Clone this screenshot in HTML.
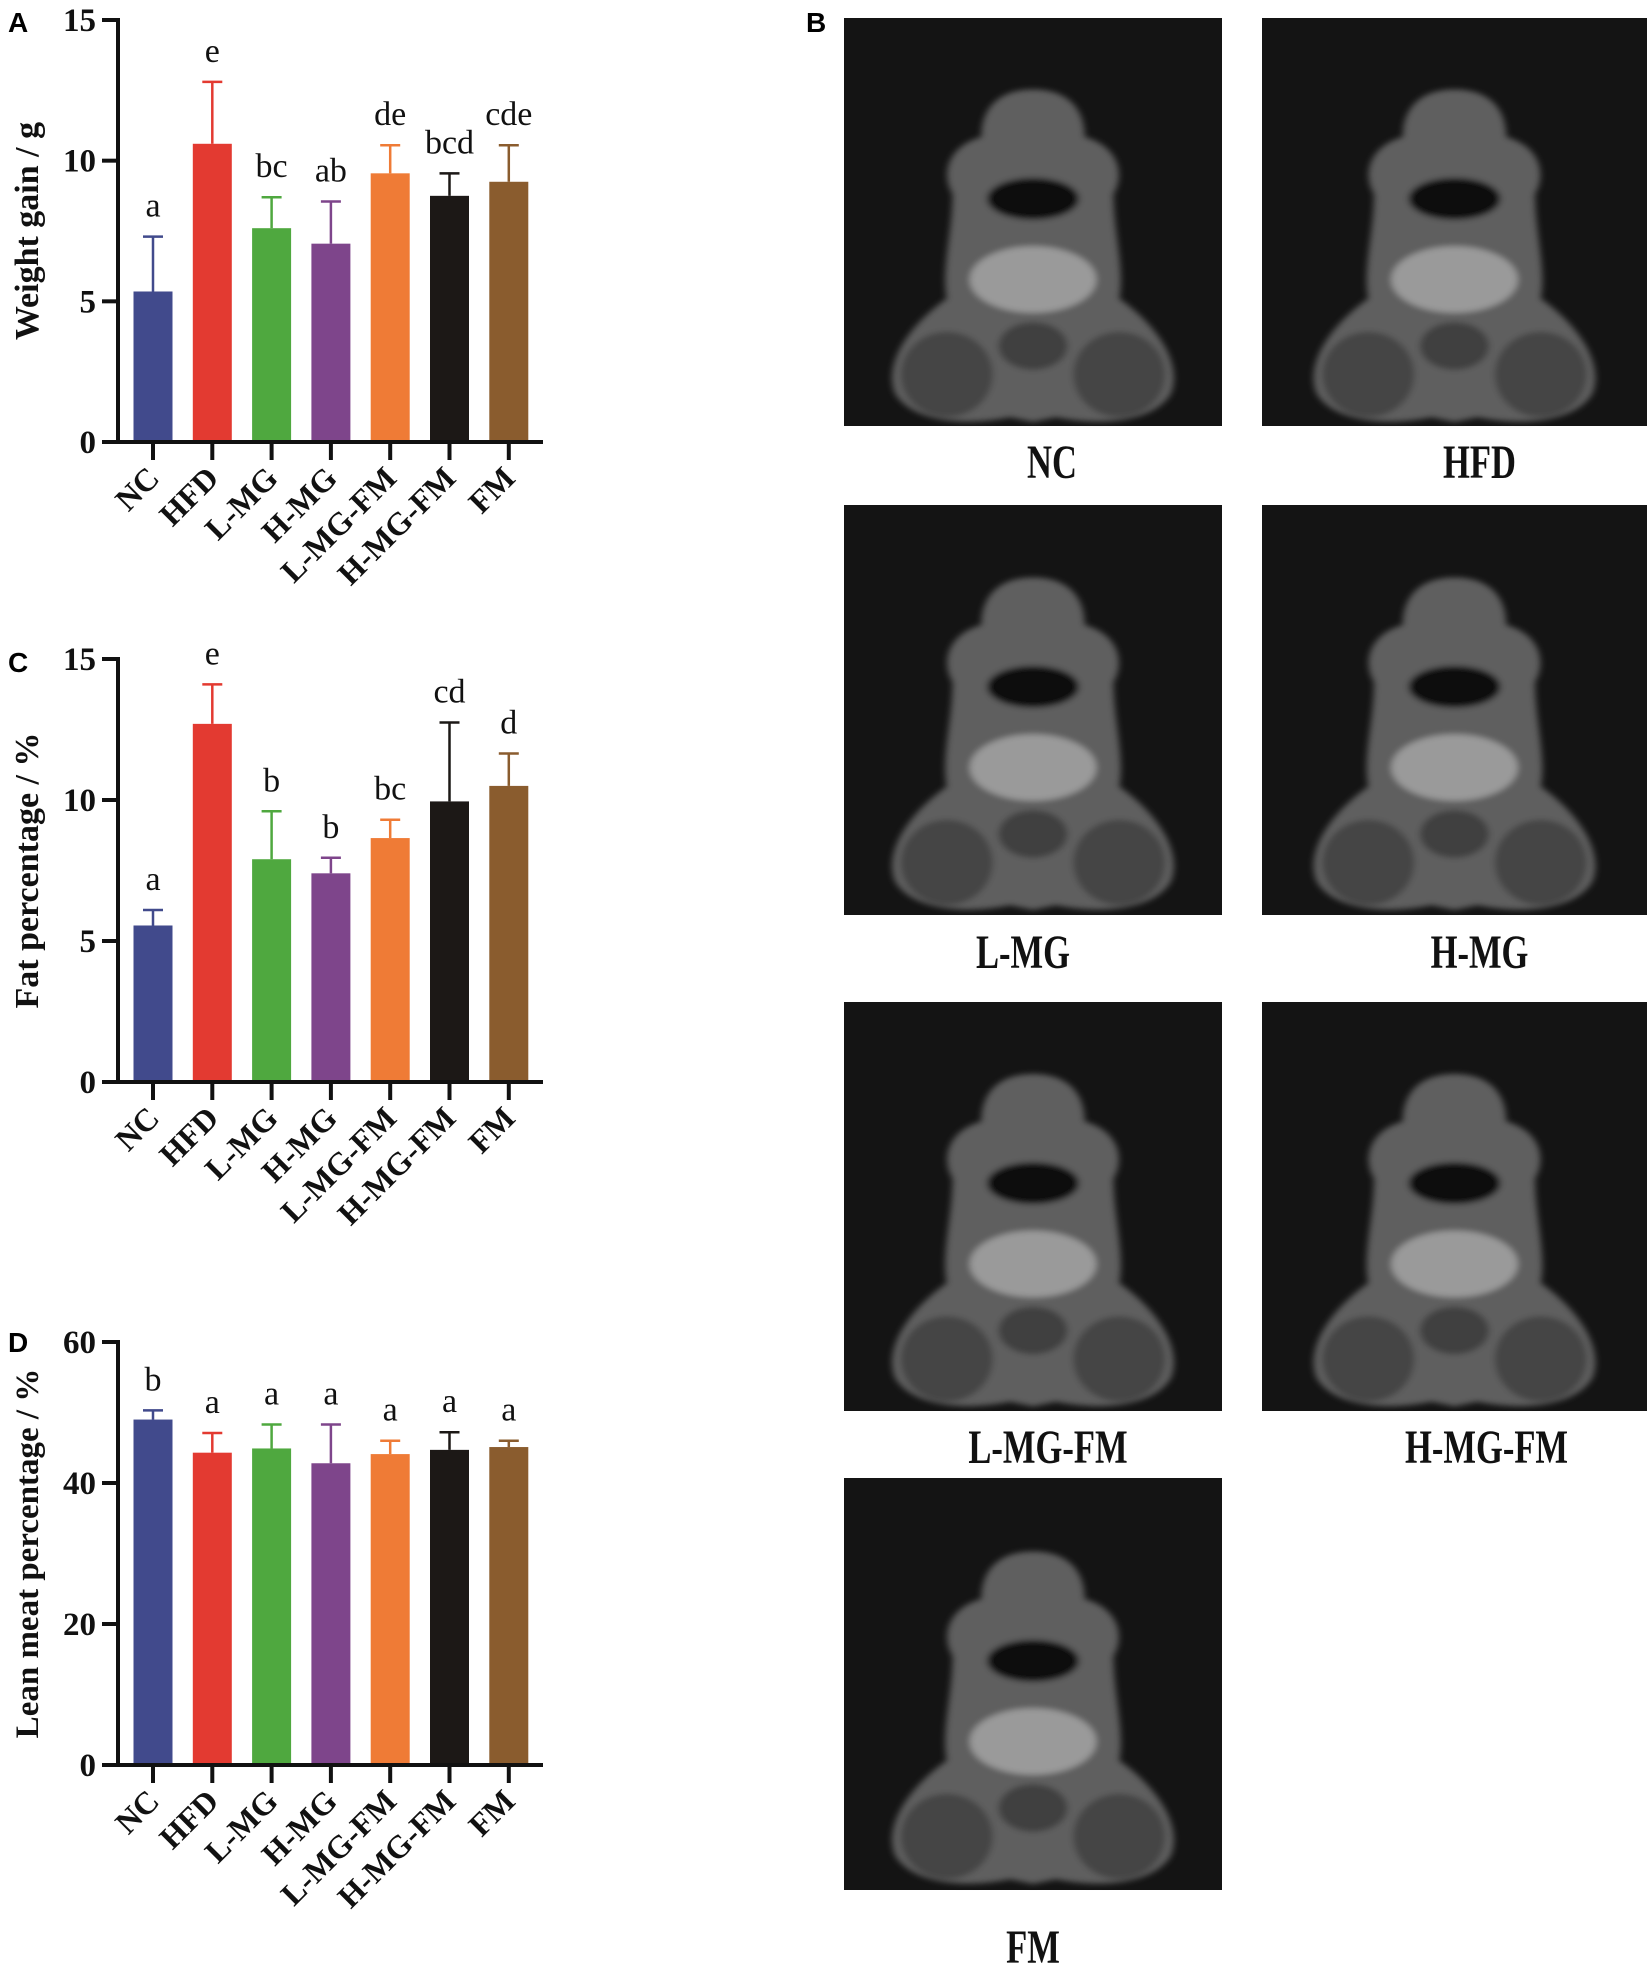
<!DOCTYPE html>
<html><head><meta charset="utf-8">
<style>
html,body{margin:0;padding:0;background:#fff;}
#root{position:relative;width:1650px;height:1979px;overflow:hidden;}
svg{position:absolute;left:0;top:0;}
.pl{font-family:"Liberation Sans",sans-serif;font-weight:bold;font-size:28px;}
.cap{font-family:"Liberation Serif",serif;font-weight:bold;font-size:48px;}
</style></head>
<body>
<div id="root">
<svg id="fig" width="1650" height="1979" viewBox="0 0 1650 1979">
  <defs>
    <filter id="blur" x="-10%" y="-10%" width="120%" height="120%"><feGaussianBlur stdDeviation="3"/></filter>
    <g id="mouse">
      <path d="M0,-150 C-30,-150 -45,-130 -45,-100 C-75,-90 -80,-60 -70,-40 C-70,0 -80,40 -75,70 C-110,100 -130,140 -120,170 C-105,200 -60,205 -20,195 L0,200 L20,195 C60,205 105,200 120,170 C130,140 110,100 75,70 C80,40 70,0 70,-40 C80,-60 75,-90 45,-100 C45,-130 30,-150 0,-150 Z" fill="#5e5e5e"/>
      <ellipse cx="0" cy="-35" rx="40" ry="22" fill="#111"/>
      <ellipse cx="0" cy="50" rx="55" ry="35" fill="#9a9a9a"/>
      <ellipse cx="-75" cy="150" rx="40" ry="45" fill="#444"/>
      <ellipse cx="75" cy="150" rx="40" ry="45" fill="#444"/>
      <ellipse cx="0" cy="120" rx="30" ry="25" fill="#3f3f3f"/>
    </g>
  </defs>
  <g id="charts"></g>
  <g id="panelB"></g>
  <text class="pl" x="8" y="32">A</text>
  <text class="pl" x="806" y="32">B</text>
  <text class="pl" x="8" y="672">C</text>
  <text class="pl" x="8" y="1352">D</text>
</svg>
</div>
<script>
const categories = ["NC","HFD","L-MG","H-MG","L-MG-FM","H-MG-FM","FM"];
const colors = ["#414a8c","#e33a31","#4fa83f","#7e458b","#ef7b36","#1c1816","#8a5c2e"];

const weightMeans = [5.35, 10.6, 7.6, 7.05, 9.55, 8.75, 9.25];
const weightErr   = [1.95, 2.2, 1.1, 1.5, 1.0, 0.8, 1.3];
const weightLetters = ["a","e","bc","ab","de","bcd","cde"];
const weightTicks = [0,5,10,15];

const fatMeans = [5.55, 12.7, 7.9, 7.4, 8.65, 9.95, 10.5];
const fatErr   = [0.55, 1.4, 1.7, 0.55, 0.65, 2.8, 1.15];
const fatLetters = ["a","e","b","b","bc","cd","d"];
const fatTicks = [0,5,10,15];

const leanMeans = [49.0, 44.3, 44.9, 42.8, 44.1, 44.7, 45.1];
const leanErr   = [1.3, 2.8, 3.4, 5.5, 1.9, 2.5, 0.9];
const leanLetters = ["b","a","a","a","a","a","a"];
const leanTicks = [0,20,40,60];

const NS = "http://www.w3.org/2000/svg";
function mk(tag, attrs, parent){
  const e = document.createElementNS(NS, tag);
  for (const k in attrs) e.setAttribute(k, attrs[k]);
  parent.appendChild(e);
  return e;
}

function drawChart(cfg){
  const g = mk("g", {}, document.getElementById("charts"));
  
  
  const axX = 118, x0 = 153, step = 59.3, bw = 39, xEnd = 543;
  const y = v => cfg.y0 - (v / cfg.max) * (cfg.y0 - cfg.yTop);
  const xc = i => x0 + i * step;
  cfg.means.forEach((m, i) => {
    const top = y(m + cfg.err[i]);
    const l = mk("line", {x1:xc(i), x2:xc(i), y1:y(m), y2:top, stroke:colors[i], "stroke-width":2.5}, g);
    
    
    const c = mk("line", {x1:xc(i)-10, x2:xc(i)+10, y1:top, y2:top, stroke:colors[i], "stroke-width":2.5}, g);
    
    
    const r = mk("rect", {x:xc(i)-bw/2, y:y(m), width:bw, height:cfg.y0 - y(m), fill:colors[i]}, g);
    
    
    const t = mk("text", {x:xc(i), y:top - 20, "text-anchor":"middle", "font-family":"Liberation Serif, serif", "font-size":"34", fill:"#111"}, g);
    t.textContent = cfg.letters[i];
    
    
    const tk = mk("line", {x1:xc(i), x2:xc(i), y1:cfg.y0, y2:cfg.y0+18, stroke:"#111", "stroke-width":4}, g);
    
    
    const lx = xc(i) + 8, ly = cfg.y0 + 38;
    const lb = mk("text", {x:lx, y:ly, "text-anchor":"end", transform:`rotate(-45 ${lx} ${ly})`, "font-family":"Liberation Serif, serif", "font-weight":"bold", "font-size":"32", fill:"#111"}, g);
    lb.textContent = categories[i];
    
    
  });
  const ya = mk("line", {x1:axX, x2:axX, y1:cfg.yTop-2, y2:cfg.y0+2, stroke:"#111", "stroke-width":4}, g);
  
  
  const xa = mk("line", {x1:axX-16, x2:xEnd, y1:cfg.y0, y2:cfg.y0, stroke:"#111", "stroke-width":4}, g);
  
  
  cfg.ticks.forEach(v => {
    const tl = mk("line", {x1:axX-16, x2:axX, y1:y(v), y2:y(v), stroke:"#111", "stroke-width":4}, g);
    
    
    const tt = mk("text", {x:axX-22, y:y(v)+11, "text-anchor":"end", "font-family":"Liberation Serif, serif", "font-weight":"bold", "font-size":"33", fill:"#111"}, g);
    tt.textContent = v;
    
    
  });
  const cy = (cfg.yTop + cfg.y0) / 2;
  const yt = mk("text", {x:38, y:cy, "text-anchor":"middle", transform:`rotate(-90 38 ${cy})`, "font-family":"Liberation Serif, serif", "font-weight":"bold", "font-size":cfg.tsize, fill:"#111"}, g);
  yt.textContent = cfg.title;
  
  
}

drawChart({name:"weight-gain-chart", means:weightMeans, err:weightErr, letters:weightLetters, ticks:weightTicks, max:15, yTop:20, y0:442, title:"Weight gain / g", tsize:34});
drawChart({name:"fat-percentage-chart", means:fatMeans, err:fatErr, letters:fatLetters, ticks:fatTicks, max:15, yTop:659, y0:1082, title:"Fat percentage / %", tsize:34});
drawChart({name:"lean-meat-chart", means:leanMeans, err:leanErr, letters:leanLetters, ticks:leanTicks, max:60, yTop:1342, y0:1765, title:"Lean meat percentage / %", tsize:33});

const mriGroups = ["NC","HFD","L-MG","H-MG","L-MG-FM","H-MG-FM","FM"];
const capDx = [19, 25, -10, 25, 15, 32, 0];
const cols = [[844,1222],[1262,1647]];
const rows = [[18,426],[505,915],[1002,1411],[1478,1890]];
const capY = [478,968,1463,1963];
const pb = document.getElementById("panelB");
mriGroups.forEach((name, i) => {
  const c = cols[i % 2], r = rows[Math.floor(i / 2)];
  const g = mk("g", {}, pb);
  
  
  mk("rect", {x:c[0], y:r[0], width:c[1]-c[0], height:r[1]-r[0], fill:"#141414"}, g);
  const cx = (c[0]+c[1])/2, cyy = (r[0]+r[1])/2 + 10;
  mk("use", {href:"#mouse", transform:`translate(${cx} ${cyy}) scale(1.15 0.95)`, filter:"url(#blur)"}, g);
  const t = mk("text", {x:0, y:0, "text-anchor":"middle", class:"cap", fill:"#111", transform:`translate(${cx + capDx[i]} ${capY[Math.floor(i/2)]}) scale(0.72 1)`}, pb);
  t.textContent = name;
  
  
});
</script>
</body></html>
